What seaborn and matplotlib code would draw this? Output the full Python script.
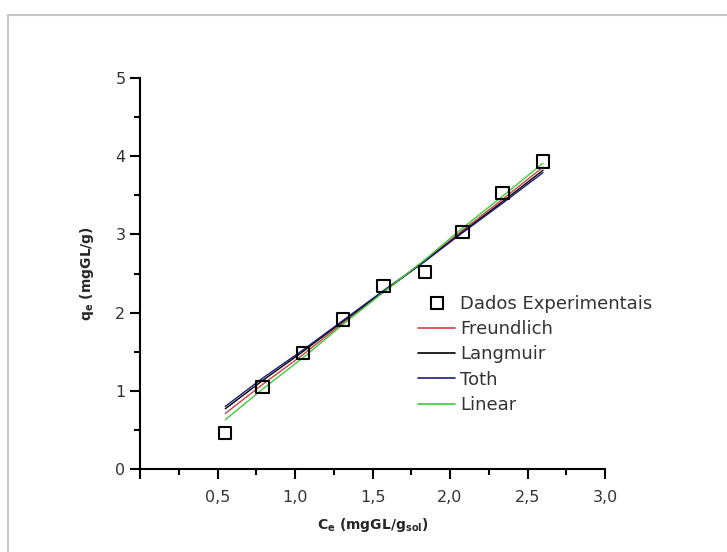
import matplotlib
matplotlib.use("Agg")
import matplotlib.pyplot as plt
import matplotlib.lines as mlines
import seaborn as sns
import pandas as pd
from matplotlib.ticker import MultipleLocator, FixedLocator, FixedFormatter

# ---- data ----
ce = [0.55, 0.79, 1.05, 1.31, 1.57, 1.84, 2.08, 2.34, 2.60]
qe_exp = [0.46, 1.05, 1.48, 1.91, 2.34, 2.52, 3.03, 3.53, 3.93]
q_freundlich = [0.71, 1.08, 1.46, 1.87, 2.26, 2.67, 3.05, 3.45, 3.86]
q_langmuir = [0.77, 1.13, 1.50, 1.89, 2.27, 2.66, 3.03, 3.42, 3.82]
q_toth = [0.80, 1.16, 1.52, 1.90, 2.28, 2.66, 3.02, 3.40, 3.79]
q_linear = [0.63, 1.02, 1.42, 1.85, 2.26, 2.68, 3.08, 3.49, 3.91]

series_names = ["Freundlich", "Langmuir", "Toth", "Linear"]
series_vals = [q_freundlich, q_langmuir, q_toth, q_linear]
series_colors = ["#d04040", "#000000", "#1c1c7a", "#3ccc3c"]

x_ticks = [0.5, 1.0, 1.5, 2.0, 2.5, 3.0]
x_ticklabels = ["0,5", "1,0", "1,5", "2,0", "2,5", "3,0"]
y_ticks = [0, 1, 2, 3, 4, 5]
y_ticklabels = ["0", "1", "2", "3", "4", "5"]

sns.set_style("white")
plt.rcParams["font.family"] = ["DejaVu Sans"]

fig = plt.figure(figsize=(7.27, 5.52), dpi=100)
ax = fig.add_axes([140 / 727, 1 - 469 / 552, (605 - 140) / 727, (469 - 78) / 552])

fits = pd.DataFrame({
    "ce": ce * len(series_names),
    "q": sum(series_vals, []),
    "model": sum([[n] * len(ce) for n in series_names], []),
})
sns.lineplot(data=fits, x="ce", y="q", hue="model", palette=dict(zip(series_names, series_colors)),
             hue_order=series_names, linewidth=1.0, ax=ax, legend=False, sort=False)

exp = pd.DataFrame({"ce": ce, "q": qe_exp})
sns.scatterplot(data=exp, x="ce", y="q", marker="s", s=80, facecolor="none",
                edgecolor="black", linewidth=1.5, ax=ax, legend=False, zorder=5)

ax.set_xlim(0, 3.0)
ax.set_ylim(0, 5)
for s in ["top", "right"]:
    ax.spines[s].set_visible(False)
for s in ["left", "bottom"]:
    ax.spines[s].set_linewidth(1.5)
    ax.spines[s].set_color("black")

ax.xaxis.set_major_locator(FixedLocator([0.0] + x_ticks))
ax.xaxis.set_major_formatter(FixedFormatter([""] + x_ticklabels))
ax.xaxis.set_minor_locator(MultipleLocator(0.25))
ax.yaxis.set_major_locator(FixedLocator(y_ticks))
ax.yaxis.set_major_formatter(FixedFormatter(y_ticklabels))
ax.yaxis.set_minor_locator(MultipleLocator(0.5))
ax.tick_params(axis="both", which="major", direction="out", length=7, width=1.5,
               color="black", labelsize=11.5, labelcolor="#333333", bottom=True, left=True)
ax.tick_params(axis="both", which="minor", direction="out", length=4, width=1.5,
               color="black", bottom=True, left=True)
ax.tick_params(axis="x", which="major", pad=8)

ax.set_xlabel(r"C$_\mathregular{e}$ (mgGL/g$_\mathregular{sol}$)", fontsize=10,
              fontweight="bold", labelpad=8)
ax.set_ylabel(r"q$_\mathregular{e}$ (mgGL/g)", fontsize=10, fontweight="bold", labelpad=14)

handles = [mlines.Line2D([], [], linestyle="none", marker="s", markersize=8,
                         markerfacecolor="none", markeredgecolor="black", markeredgewidth=1.5)]
handles += [mlines.Line2D([], [], color=c, linewidth=1.2) for c in series_colors]
labels = ["Dados Experimentais"] + series_names
fig.legend(handles, labels, loc="upper left", bbox_to_anchor=(418 / 727, 1 - 295 / 552),
           frameon=False, fontsize=13, handlelength=2.05, handletextpad=0.3,
           labelspacing=0.4, borderaxespad=0, borderpad=0, labelcolor="#333333")

# light frame around the figure (top and left visible)
fig.add_artist(mlines.Line2D([8 / 727, 1.0], [1 - 15 / 552, 1 - 15 / 552],
                             transform=fig.transFigure, color="#c8c8c8", linewidth=1.5))
fig.add_artist(mlines.Line2D([8 / 727, 8 / 727], [0.0, 1 - 15 / 552],
                             transform=fig.transFigure, color="#c8c8c8", linewidth=1.5))

fig.savefig("out.png", dpi=100)
